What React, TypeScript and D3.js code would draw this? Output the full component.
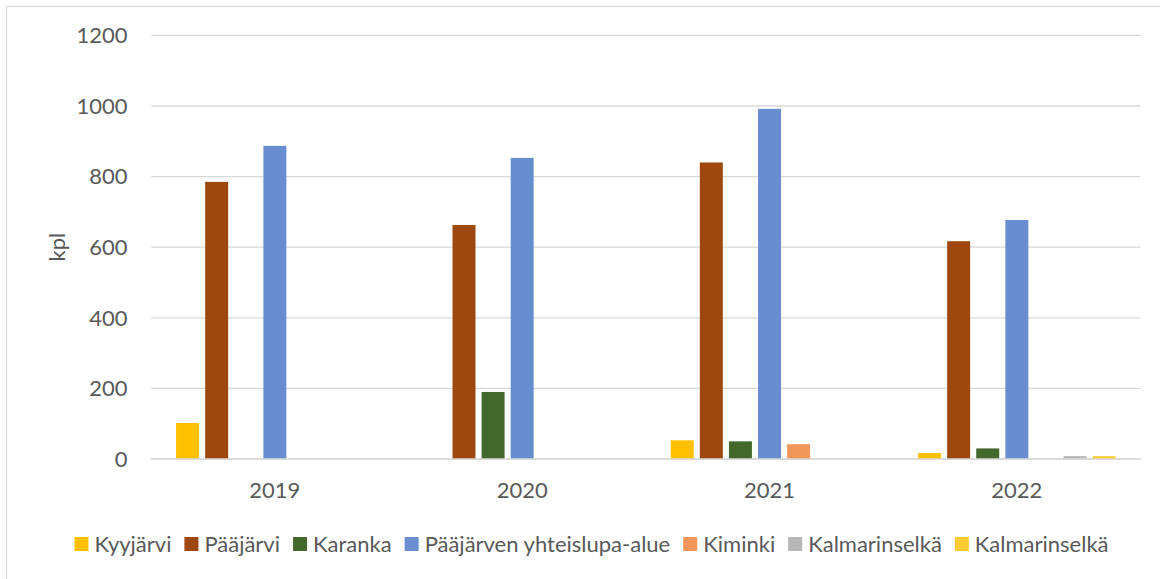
import React, { useEffect, useRef } from "react";
import * as d3 from "d3";

const years = ["2019", "2020", "2021", "2022"];
const seriesNames = [
  "Kyyjärvi",
  "Pääjärvi",
  "Karanka",
  "Pääjärven yhteislupa-alue",
  "Kiminki",
  "Kalmarinselkä",
  "Kalmarinselkä",
];
const seriesColors = ["#FFC000", "#9E480E", "#43682B", "#698ED0", "#F1975A", "#B7B7B7", "#FFCD33"];
// values per series, indexed by year (null = no bar)
const kyyjarvi = [102, null, 53, 17];
const paajarvi = [785, 663, 840, 617];
const karanka = [null, 190, 50, 30];
const yhteislupa = [887, 853, 992, 677];
const kiminki = [null, null, 42, null];
const kalmarinselka1 = [null, null, null, 8];
const kalmarinselka2 = [null, null, null, 8];
const yTicks = [0, 200, 400, 600, 800, 1000, 1200];
const yLabel = "kpl";

const seriesValues = [kyyjarvi, paajarvi, karanka, yhteislupa, kiminki, kalmarinselka1, kalmarinselka2];

const W = 1160;
const H = 579;
const FONT = "Lato, 'Open Sans', sans-serif";
const FS = 22;
const TEXT = "#595959";

export default function App() {
  const ref = useRef<SVGSVGElement>(null);

  useEffect(() => {
    const svg = d3.select(ref.current);
    svg.selectAll("*").remove();

    svg
      .append("rect")
      .attr("x", 6.5)
      .attr("y", 6.5)
      .attr("width", W + 20)
      .attr("height", H + 20)
      .attr("fill", "#fff")
      .attr("stroke", "#D9D9D9")
      .attr("stroke-width", 1.3);

    const left = 151.2;
    const right = 1140.5;
    const top = 35.4;
    const bottom = 459;

    const y = d3.scaleLinear().domain([0, 1200]).range([bottom, top]);
    const x0 = d3.scaleBand<string>().domain(years).range([left, right]).padding(0);
    const idx = seriesNames.map((_, i) => String(i));
    const x1 = d3
      .scaleBand<string>()
      .domain(idx)
      .range([0, x0.bandwidth()])
      .paddingInner(0.21)
      .paddingOuter(0.855);

    // gridlines
    svg
      .append("g")
      .selectAll("line")
      .data(yTicks)
      .join("line")
      .attr("x1", left)
      .attr("x2", right)
      .attr("y1", (d) => y(d))
      .attr("y2", (d) => y(d))
      .attr("stroke", "#D9D9D9")
      .attr("stroke-width", 1.3);

    // y tick labels
    svg
      .append("g")
      .selectAll("text")
      .data(yTicks)
      .join("text")
      .attr("x", 127.5)
      .attr("y", (d) => y(d))
      .attr("dy", "0.35em")
      .attr("text-anchor", "end")
      .attr("font-family", FONT)
      .attr("font-size", FS)
      .attr("fill", TEXT)
      .text((d) => String(d));

    // y axis title
    svg
      .append("text")
      .attr("transform", `translate(${65},${(top + bottom) / 2}) rotate(-90)`)
      .attr("text-anchor", "middle")
      .attr("font-family", FONT)
      .attr("font-size", FS)
      .attr("fill", TEXT)
      .text(yLabel);

    // bars
    const g = svg.append("g");
    seriesValues.forEach((vals, si) => {
      g.append("g")
        .selectAll("rect")
        .data(years.map((yr, yi) => ({ yr, v: vals[yi] })).filter((d) => d.v != null))
        .join("rect")
        .attr("x", (d) => (x0(d.yr) as number) + (x1(String(si)) as number))
        .attr("width", x1.bandwidth())
        .attr("y", (d) => y(d.v as number))
        .attr("height", (d) => bottom - y(d.v as number))
        .attr("fill", seriesColors[si]);
    });

    // baseline over bars
    svg
      .append("line")
      .attr("x1", left)
      .attr("x2", right)
      .attr("y1", bottom)
      .attr("y2", bottom)
      .attr("stroke", "#D9D9D9")
      .attr("stroke-width", 1.3);

    // year labels
    svg
      .append("g")
      .selectAll("text")
      .data(years)
      .join("text")
      .attr("x", (d) => (x0(d) as number) + x0.bandwidth() / 2)
      .attr("y", 490)
      .attr("dy", "0.35em")
      .attr("text-anchor", "middle")
      .attr("font-family", FONT)
      .attr("font-size", FS)
      .attr("fill", TEXT)
      .text((d) => d);

    // legend
    const lg = svg.append("g");
    const sw = 14;
    const gapSw = 6;
    const gapItem = 13;
    const texts = seriesNames.map((n) =>
      lg
        .append("text")
        .attr("font-family", FONT)
        .attr("font-size", FS)
        .attr("fill", TEXT)
        .attr("y", 544)
        .attr("dy", "0.35em")
        .text(n)
    );
    const widths = texts.map((t) => (t.node() as SVGTextElement).getComputedTextLength());
    const total =
      widths.reduce((a, b) => a + b, 0) + seriesNames.length * (sw + gapSw) + (seriesNames.length - 1) * gapItem;
    let cx = 591.5 - total / 2;
    seriesNames.forEach((_, i) => {
      lg.append("rect")
        .attr("x", cx)
        .attr("y", 537)
        .attr("width", sw)
        .attr("height", sw)
        .attr("fill", seriesColors[i]);
      texts[i].attr("x", cx + sw + gapSw);
      cx += sw + gapSw + widths[i] + gapItem;
    });
  }, []);

  return (
    <svg
      ref={ref}
      width={W}
      height={H}
      style={{ position: "absolute", left: 0, top: 0, background: "#fff" }}
    />
  );
}
